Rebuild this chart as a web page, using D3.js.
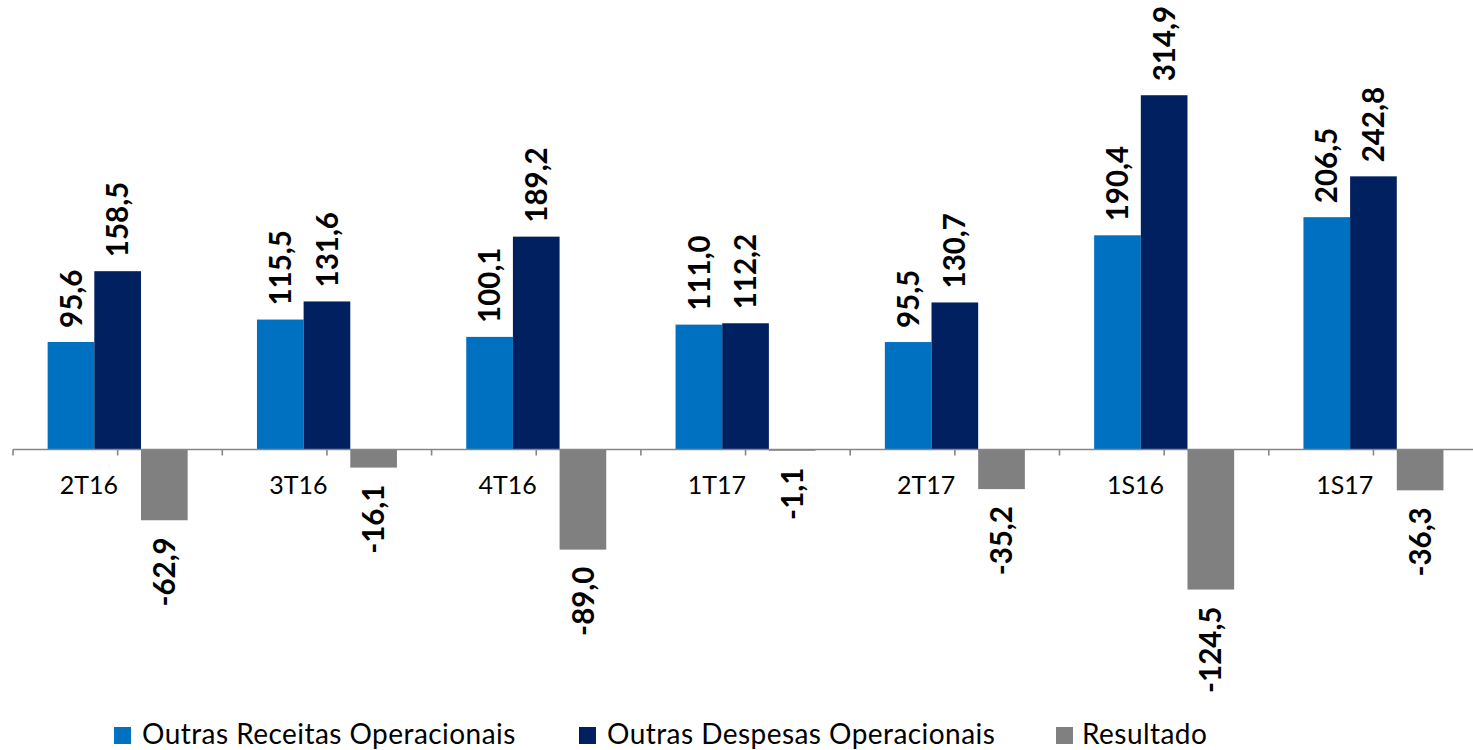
<!DOCTYPE html>
<html>
<head>
<meta charset="utf-8">
<script src="https://cdn.jsdelivr.net/npm/d3@7"></script>
<style>
  html, body { margin: 0; padding: 0; background: #fff; }
  svg { display: block; }
</style>
</head>
<body>
<script>
const categories = ["2T16", "3T16", "4T16", "1T17", "2T17", "1S16", "1S17"];
const seriesNames = ["Outras Receitas Operacionais", "Outras Despesas Operacionais", "Resultado"];
const receitas = [95.6, 115.5, 100.1, 111.0, 95.5, 190.4, 206.5];
const despesas = [158.5, 131.6, 189.2, 112.2, 130.7, 314.9, 242.8];
const resultado = [-62.9, -16.1, -89.0, -1.1, -35.2, -124.5, -36.3];
const colors = ["#0070C0", "#002060", "#808080"];

const W = 1473, H = 750;
const FONT = "Lato, 'Open Sans', sans-serif";

const svg = d3.select("body").append("svg").attr("width", W).attr("height", H);

const groupW = 209.3;
const x0 = d3.scaleBand().domain(categories).range([13, 13 + groupW * categories.length]);
const pad = 34.65;
const x1 = d3.scaleBand().domain(seriesNames).range([pad, x0.bandwidth() - pad]);
const y = d3.scaleLinear().domain([-150, 350]).range([449.5 + 150 * 1.125, 449.5 - 350 * 1.125]);

const allSeries = [receitas, despesas, resultado];
const data = categories.map((c, i) => ({
  cat: c,
  vals: seriesNames.map((s, j) => ({ s, j, v: allSeries[j][i] }))
}));

const loc = d3.formatLocale({ decimal: ",", thousands: ".", grouping: [3], currency: ["R$", ""], minus: "-" });
const fmt = loc.format(".1f");

const groups = svg.selectAll("g.grp").data(data).join("g")
  .attr("class", "grp")
  .attr("transform", d => `translate(${x0(d.cat)},0)`);

groups.selectAll("rect").data(d => d.vals).join("rect")
  .attr("x", d => x1(d.s))
  .attr("width", x1.bandwidth())
  .attr("y", d => y(Math.max(0, d.v)))
  .attr("height", d => Math.abs(y(d.v) - y(0)))
  .attr("fill", d => colors[d.j]);

// value labels
groups.selectAll("text.val").data(d => d.vals).join("text")
  .attr("class", "val")
  .attr("transform", d => {
    const cx = x1(d.s) + x1.bandwidth() / 2;
    const yy = d.v >= 0 ? y(d.v) - 14 : y(d.v) + 17;
    return `translate(${cx},${yy}) rotate(-90)`;
  })
  .attr("text-anchor", d => d.v >= 0 ? "start" : "end")
  .attr("dy", "0.36em")
  .attr("font-family", FONT)
  .attr("font-weight", "bold")
  .attr("font-size", 29.5)
  .attr("fill", "#000")
  .text(d => fmt(d.v));

// axis
const axisG = svg.append("g");
axisG.append("line")
  .attr("x1", x0.range()[0]).attr("x2", W)
  .attr("y1", y(0)).attr("y2", y(0))
  .attr("stroke", "#868686").attr("stroke-width", 1.6);
const tickPos = [];
categories.forEach(c => { tickPos.push(x0(c)); tickPos.push(x0(c) + x0.bandwidth() / 2); });
axisG.selectAll("line.tick").data(tickPos).join("line")
  .attr("class", "tick")
  .attr("x1", d => d).attr("x2", d => d)
  .attr("y1", y(0)).attr("y2", y(0) + 6)
  .attr("stroke", "#868686").attr("stroke-width", 1.6);

axisG.selectAll("text.cat").data(categories).join("text")
  .attr("class", "cat")
  .attr("x", c => x0(c) + 76)
  .attr("y", 494)
  .attr("text-anchor", "middle")
  .attr("font-family", FONT)
  .attr("font-size", 25)
  .attr("fill", "#000")
  .text(c => c);

// legend
const legendX = [114, 579, 1056];
const leg = svg.selectAll("g.leg").data(seriesNames).join("g")
  .attr("class", "leg")
  .attr("transform", (d, i) => `translate(${legendX[i]},0)`);
leg.append("rect").attr("x", 0).attr("y", 727).attr("width", 17).attr("height", 17)
  .attr("fill", (d, i) => colors[i]);
leg.append("text").attr("x", (d, i) => i === 2 ? 26 : 28).attr("y", 744)
  .attr("font-family", FONT).attr("font-size", 28).attr("letter-spacing", 0.45).attr("fill", "#000")
  .text(d => d);
</script>
</body>
</html>
